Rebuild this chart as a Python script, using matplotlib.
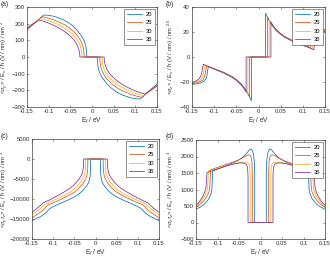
import matplotlib
matplotlib.use("Agg")
import matplotlib.pyplot as plt

labels = ["20", "25", "30", "35"]
colors = ["#0072BD", "#D95319", "#EDB120", "#7E2F8E"]

# ---------------- panel (a) ----------------
a20_x = [-0.15, -0.13, -0.111, -0.1, -0.088, -0.07, -0.057, -0.045, -0.034, -0.026, -0.021, -0.017, -0.014, -0.0124, -0.012,
         0.012, 0.0124, 0.014, 0.017, 0.021, 0.026, 0.034, 0.045, 0.057, 0.07, 0.088, 0.1, 0.111, 0.13, 0.15]
a20_y = [162, 208, 252, 250, 244, 228, 210, 188, 160, 132, 112, 90, 60, 30, 0,
         0, -30, -60, -90, -112, -132, -160, -188, -210, -228, -244, -250, -252, -208, -162]
a25_x = [-0.15, -0.133, -0.116, -0.104, -0.09, -0.075, -0.062, -0.05, -0.04, -0.032, -0.027, -0.023, -0.02, -0.0184, -0.018,
         0.018, 0.0184, 0.02, 0.023, 0.027, 0.032, 0.04, 0.05, 0.062, 0.075, 0.09, 0.104, 0.116, 0.133, 0.15]
a25_y = [167, 205, 242, 236, 225, 208, 192, 170, 147, 122, 103, 82, 55, 28, 0,
         0, -28, -55, -82, -103, -122, -147, -170, -192, -208, -225, -236, -242, -205, -167]
a30_x = [-0.15, -0.135, -0.119, -0.107, -0.094, -0.08, -0.067, -0.055, -0.045, -0.037, -0.032, -0.028, -0.025, -0.0234, -0.023,
         0.023, 0.0234, 0.025, 0.028, 0.032, 0.037, 0.045, 0.055, 0.067, 0.08, 0.094, 0.107, 0.119, 0.135, 0.15]
a30_y = [171, 202, 232, 224, 212, 197, 179, 158, 136, 113, 95, 75, 50, 25, 0,
         0, -25, -50, -75, -95, -113, -136, -158, -179, -197, -212, -224, -232, -202, -171]
a35_x = [-0.15, -0.136, -0.1215, -0.11, -0.098, -0.085, -0.072, -0.06, -0.05, -0.042, -0.037, -0.033, -0.03, -0.0284, -0.028,
         0.028, 0.0284, 0.03, 0.033, 0.037, 0.042, 0.05, 0.06, 0.072, 0.085, 0.098, 0.11, 0.1215, 0.136, 0.15]
a35_y = [175, 199, 222, 213, 201, 186, 168, 147, 125, 104, 85, 65, 42, 22, 0,
         0, -22, -42, -65, -85, -104, -125, -147, -168, -186, -201, -213, -222, -199, -175]

# ---------------- panel (b) ----------------
b20_x = [-0.15, -0.14, -0.13, -0.122, -0.118, -0.116, -0.1145, -0.113, -0.1, -0.08, -0.06, -0.05, -0.04, -0.03, -0.025, -0.02, -0.016, -0.016,
         0.016, 0.016, 0.02, 0.025, 0.03, 0.04, 0.05, 0.06, 0.08, 0.1, 0.113, 0.1145, 0.116, 0.118, 0.122, 0.13, 0.14, 0.15]
b20_y = [-22, -21.5, -20.6, -19.2, -17, -14, -10, -7.8, -9.3, -12, -15.5, -18, -21, -25.5, -28.5, -32, -35, 0,
         0, 35, 32, 28.5, 25.5, 21, 18, 15.5, 12, 9.3, 7.8, 10, 14, 17, 19.2, 20.6, 21.5, 22]
b25_x = [-0.15, -0.142, -0.133, -0.126, -0.122, -0.12, -0.1185, -0.117, -0.1, -0.08, -0.06, -0.05, -0.04, -0.03, -0.025, -0.02, -0.02,
         0.02, 0.02, 0.025, 0.03, 0.04, 0.05, 0.06, 0.08, 0.1, 0.117, 0.1185, 0.12, 0.122, 0.126, 0.133, 0.142, 0.15]
b25_y = [-21.3, -20.8, -19.8, -18.5, -16, -13, -9.5, -7.2, -9.5, -12.2, -15.8, -18.3, -21.5, -26, -29, -32, 0,
         0, 32, 29, 26, 21.5, 18.3, 15.8, 12.2, 9.5, 7.2, 9.5, 13, 16, 18.5, 19.8, 20.8, 21.3]
b30_x = [-0.15, -0.144, -0.137, -0.13, -0.126, -0.124, -0.1225, -0.121, -0.1, -0.08, -0.06, -0.05, -0.04, -0.03, -0.024, -0.024,
         0.024, 0.024, 0.03, 0.04, 0.05, 0.06, 0.08, 0.1, 0.121, 0.1225, 0.124, 0.126, 0.13, 0.137, 0.144, 0.15]
b30_y = [-20.8, -20.3, -19.5, -18, -15.5, -12.5, -9, -6.6, -9.6, -12.4, -16, -18.5, -21.8, -26.3, -30, 0,
         0, 30, 26.3, 21.8, 18.5, 16, 12.4, 9.6, 6.6, 9, 12.5, 15.5, 18, 19.5, 20.3, 20.8]
b35_x = [-0.15, -0.145, -0.14, -0.134, -0.13, -0.1275, -0.126, -0.1245, -0.1, -0.08, -0.06, -0.05, -0.04, -0.035, -0.028, -0.028,
         0.028, 0.028, 0.035, 0.04, 0.05, 0.06, 0.08, 0.1, 0.1245, 0.126, 0.1275, 0.13, 0.134, 0.14, 0.145, 0.15]
b35_y = [-20.4, -19.8, -19, -17.5, -15, -12, -8.5, -5.8, -9.7, -12.6, -16.2, -18.7, -22, -24, -28, 0,
         0, 28, 24, 22, 18.7, 16.2, 12.6, 9.7, 5.8, 8.5, 12, 15, 17.5, 19, 19.8, 20.4]

# ---------------- panel (c) ----------------
c20_x = [-0.15, -0.14, -0.13, -0.12, -0.115, -0.111, -0.105, -0.09, -0.07, -0.05, -0.04, -0.03, -0.02, -0.016, -0.013, -0.012, -0.0115,
         0.0115, 0.012, 0.013, 0.016, 0.02, 0.03, 0.04, 0.05, 0.07, 0.09, 0.105, 0.111, 0.115, 0.12, 0.13, 0.14, 0.15]
c20_y = [-15400, -14900, -14400, -13700, -13200, -12700, -12200, -11400, -10500, -9500, -8800, -7900, -6600, -5800, -4500, -3000, 0,
         0, -3000, -4500, -5800, -6600, -7900, -8800, -9500, -10500, -11400, -12200, -12700, -13200, -13700, -14400, -14900, -15400]
c25_x = [-0.15, -0.14, -0.13, -0.12, -0.117, -0.11, -0.09, -0.07, -0.05, -0.04, -0.03, -0.023, -0.02, -0.0185, -0.018,
         0.018, 0.0185, 0.02, 0.023, 0.03, 0.04, 0.05, 0.07, 0.09, 0.11, 0.117, 0.12, 0.13, 0.14, 0.15]
c25_y = [-14700, -14000, -13300, -12400, -11900, -11400, -10500, -9500, -8300, -7400, -6200, -5000, -3900, -2500, 0,
         0, -2500, -3900, -5000, -6200, -7400, -8300, -9500, -10500, -11400, -11900, -12400, -13300, -14000, -14700]
c30_x = [-0.15, -0.135, -0.125, -0.121, -0.11, -0.09, -0.07, -0.055, -0.045, -0.035, -0.028, -0.025, -0.0235, -0.023,
         0.023, 0.0235, 0.025, 0.028, 0.035, 0.045, 0.055, 0.07, 0.09, 0.11, 0.121, 0.125, 0.135, 0.15]
c30_y = [-13900, -12800, -11900, -11400, -10800, -9900, -8900, -7900, -7000, -5800, -4500, -3400, -2000, 0,
         0, -2000, -3400, -4500, -5800, -7000, -7900, -8900, -9900, -10800, -11400, -11900, -12800, -13900]
c35_x = [-0.15, -0.14, -0.13, -0.1245, -0.11, -0.09, -0.075, -0.06, -0.05, -0.04, -0.033, -0.03, -0.0285, -0.028,
         0.028, 0.0285, 0.03, 0.033, 0.04, 0.05, 0.06, 0.075, 0.09, 0.11, 0.1245, 0.13, 0.14, 0.15]
c35_y = [-13300, -12500, -11600, -11000, -10300, -9200, -8300, -7300, -6400, -5200, -4000, -3000, -1800, 0,
         0, -1800, -3000, -4000, -5200, -6400, -7300, -8300, -9200, -10300, -11000, -11600, -12500, -13300]

# ---------------- panel (d) ----------------
d20_x = [-0.15, -0.14, -0.13, -0.12, -0.115, -0.113, -0.112, -0.111, -0.1, -0.08, -0.06, -0.05, -0.04, -0.032, -0.026, -0.022, -0.019, -0.016, -0.0145, -0.0135, -0.0135,
         0.0135, 0.0135, 0.0145, 0.016, 0.019, 0.022, 0.026, 0.032, 0.04, 0.05, 0.06, 0.08, 0.1, 0.111, 0.112, 0.113, 0.115, 0.12, 0.13, 0.14, 0.15]
d20_y = [400, 470, 560, 720, 880, 1000, 1350, 1560, 1620, 1720, 1830, 1900, 1990, 2100, 2200, 2230, 2180, 2050, 1850, 1500, 0,
         0, 1500, 1850, 2050, 2180, 2230, 2200, 2100, 1990, 1900, 1830, 1720, 1620, 1560, 1350, 1000, 880, 720, 560, 470, 400]
d25_x = [-0.15, -0.142, -0.133, -0.125, -0.12, -0.118, -0.117, -0.116, -0.1, -0.08, -0.06, -0.05, -0.04, -0.032, -0.028, -0.025, -0.022, -0.02, -0.019, -0.019,
         0.019, 0.019, 0.02, 0.022, 0.025, 0.028, 0.032, 0.04, 0.05, 0.06, 0.08, 0.1, 0.116, 0.117, 0.118, 0.12, 0.125, 0.133, 0.142, 0.15]
d25_y = [460, 530, 640, 780, 920, 1050, 1350, 1600, 1670, 1760, 1850, 1900, 1970, 2030, 2050, 2040, 2000, 1850, 1500, 0,
         0, 1500, 1850, 2000, 2040, 2050, 2030, 1970, 1900, 1850, 1760, 1670, 1600, 1350, 1050, 920, 780, 640, 530, 460]
d30_x = [-0.15, -0.144, -0.137, -0.13, -0.125, -0.123, -0.122, -0.121, -0.1, -0.08, -0.06, -0.05, -0.04, -0.035, -0.03, -0.027, -0.025, -0.024, -0.024,
         0.024, 0.024, 0.025, 0.027, 0.03, 0.035, 0.04, 0.05, 0.06, 0.08, 0.1, 0.121, 0.122, 0.123, 0.125, 0.13, 0.137, 0.144, 0.15]
d30_y = [490, 560, 660, 800, 940, 1050, 1330, 1570, 1640, 1720, 1790, 1815, 1830, 1830, 1810, 1780, 1700, 1450, 0,
         0, 1450, 1700, 1780, 1810, 1830, 1830, 1815, 1790, 1720, 1640, 1570, 1330, 1050, 940, 800, 660, 560, 490]
d35_x = [-0.15, -0.145, -0.14, -0.133, -0.129, -0.127, -0.1255, -0.1245, -0.115, -0.1, -0.08, -0.06, -0.05, -0.045, -0.04, -0.035, -0.032, -0.03, -0.029, -0.029,
         0.029, 0.029, 0.03, 0.032, 0.035, 0.04, 0.045, 0.05, 0.06, 0.08, 0.1, 0.115, 0.1245, 0.1255, 0.127, 0.129, 0.133, 0.14, 0.145, 0.15]
d35_y = [530, 590, 670, 820, 950, 1050, 1300, 1510, 1560, 1620, 1710, 1780, 1800, 1805, 1800, 1780, 1740, 1650, 1400, 0,
         0, 1400, 1650, 1740, 1780, 1800, 1805, 1800, 1780, 1710, 1620, 1560, 1510, 1300, 1050, 950, 820, 670, 590, 530]

xticks = [-0.15, -0.1, -0.05, 0, 0.05, 0.1, 0.15]
xticklabels = ["-0.15", "-0.1", "-0.05", "0", "0.05", "0.1", "0.15"]

panels = [
    dict(pos=[27, 7, 157, 107], tag="(a)", tagxy=(1, 1), ylx=10,
         series=[(a20_x, a20_y), (a25_x, a25_y), (a30_x, a30_y), (a35_x, a35_y)],
         ylim=(-300, 300), yticks=[-300, -200, -100, 0, 100, 200, 300],
         ylabel=r"<$\sigma_y$> / E$_x$ / ħ (V / nm) / nm $^2$"),
    dict(pos=[192, 7, 325, 107], tag="(b)", tagxy=(166, 1), ylx=176,
         series=[(b20_x, b20_y), (b25_x, b25_y), (b30_x, b30_y), (b35_x, b35_y)],
         ylim=(-40, 40), yticks=[-40, -20, 0, 20, 40],
         ylabel=r"<$\sigma_z$> / E$_x$ / ħ (V / nm) / nm $^{2.5}$"),
    dict(pos=[32, 139, 159, 239], tag="(c)", tagxy=(1, 133), ylx=10,
         series=[(c20_x, c20_y), (c25_x, c25_y), (c30_x, c30_y), (c35_x, c35_y)],
         ylim=(-20000, 5000), yticks=[-20000, -15000, -10000, -5000, 0, 5000],
         ylabel=r"<$\sigma_y\tau_z$> / E$_x$ / ħ (V / nm) / nm $^3$"),
    dict(pos=[196, 140, 325, 239], tag="(d)", tagxy=(166, 133), ylx=176,
         series=[(d20_x, d20_y), (d25_x, d25_y), (d30_x, d30_y), (d35_x, d35_y)],
         ylim=(-500, 2500), yticks=[-500, 0, 500, 1000, 1500, 2000, 2500],
         ylabel=r"<$\sigma_z\tau_z$> / E$_x$ / ħ (V / nm) / nm $^3$"),
]

plt.rcParams["font.family"] = ["Liberation Sans", "DejaVu Sans"]
plt.rcParams["mathtext.fontset"] = "custom"
plt.rcParams["mathtext.rm"] = "Liberation Sans"
plt.rcParams["mathtext.it"] = "Liberation Sans:italic"
plt.rcParams["mathtext.bf"] = "Liberation Sans:bold"

W, H = 330, 261
fig = plt.figure(figsize=(W / 100, H / 100), dpi=100)

for p in panels:
    l, t, r, b = p["pos"]
    ax = fig.add_axes([l / W, 1 - b / H, (r - l) / W, (b - t) / H])
    for (xs, ys), lab, c in zip(p["series"], labels, colors):
        ax.plot(xs, ys, color=c, lw=0.55, label=lab)
    ax.set_xlim(-0.15, 0.15)
    ax.set_ylim(*p["ylim"])
    ax.set_xticks(xticks)
    ax.set_xticklabels(xticklabels)
    ax.set_yticks(p["yticks"])
    ax.tick_params(direction="in", length=1.5, width=0.4, labelsize=4.3, pad=1.5,
                   top=True, right=True, colors="#404040", labelcolor="#303030")
    for s in ax.spines.values():
        s.set_linewidth(0.5)
        s.set_color("#404040")
    ax.set_xlabel(r"E$_f$ / eV", fontsize=4.7, labelpad=1, color="#303030")
    ax.set_ylabel(p["ylabel"], fontsize=4.2, color="#303030")
    ax.yaxis.set_label_coords((p["ylx"] - l) / (r - l), 0.5)
    leg = ax.legend(loc="upper right", fontsize=4.2, frameon=True, fancybox=False,
                    framealpha=1, edgecolor="#404040", handlelength=2.6,
                    borderpad=0.5, labelspacing=0.55, borderaxespad=0.35,
                    handletextpad=0.6)
    leg.get_frame().set_linewidth(0.4)
    fig.text(p["tagxy"][0] / W, 1 - p["tagxy"][1] / H, p["tag"], fontsize=4.8,
             va="top", ha="left", color="#303030")

fig.savefig("out.png", dpi=100)
